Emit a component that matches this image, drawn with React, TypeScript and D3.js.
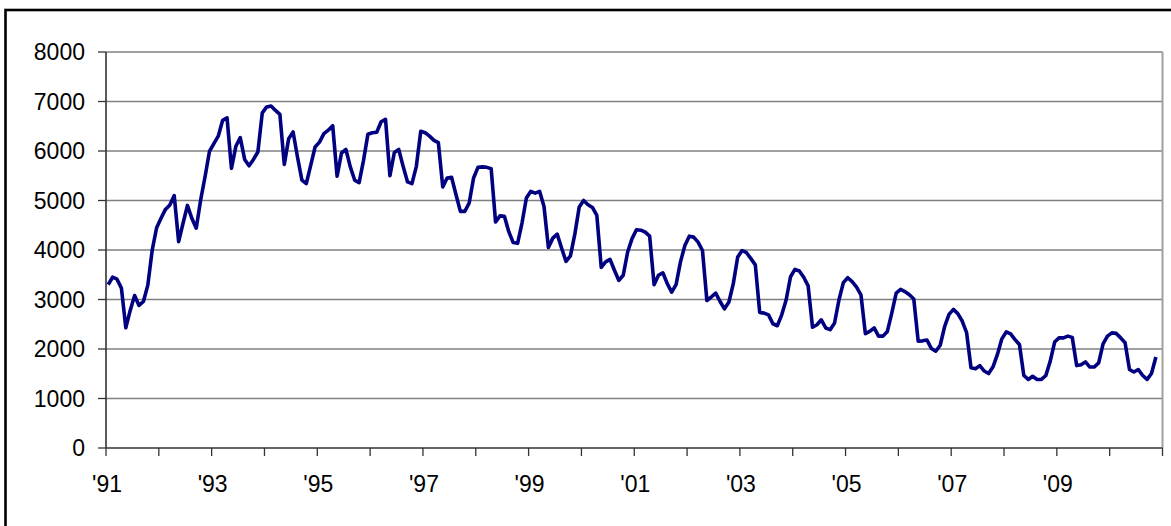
import React from 'react';
import * as d3 from 'd3';

// monthly values, Jan 1991 .. Nov 2010
const values: number[] = [
  3300, 3450, 3410, 3230, 2430, 2780, 3080, 2880, 2960, 3290, 4000, 4450,
  4640, 4820, 4910, 5100, 4170, 4540, 4900, 4640, 4440, 5010, 5480, 5990,
  6150, 6300, 6620, 6670, 5650, 6095, 6270, 5830, 5700, 5830, 5980, 6770,
  6890, 6910, 6820, 6740, 5730, 6250, 6385, 5880, 5410, 5340, 5710, 6080,
  6180, 6350, 6420, 6510, 5490, 5960, 6030, 5680, 5410, 5360, 5810, 6340,
  6370, 6380, 6590, 6640, 5500, 5970, 6030, 5690, 5375, 5340, 5690, 6400,
  6370, 6300, 6215, 6170, 5275, 5455, 5470, 5120, 4780, 4780, 4950, 5455,
  5670, 5680, 5670, 5640, 4565, 4690, 4680, 4370, 4150, 4135, 4545, 5050,
  5185, 5150, 5185, 4880, 4050, 4240, 4320, 4035, 3770, 3880, 4320, 4870,
  5000, 4915, 4860, 4700, 3650, 3760, 3810, 3590, 3385, 3490, 3960, 4230,
  4410, 4400, 4360, 4280, 3300, 3490, 3540, 3320, 3150, 3300, 3760, 4090,
  4280, 4260, 4160, 3990, 2980, 3050, 3130, 2960, 2810, 2950, 3320, 3860,
  3990, 3945, 3825, 3700, 2740, 2725, 2690, 2510, 2470, 2690, 2990, 3460,
  3610, 3575, 3450, 3275, 2440, 2490, 2590, 2425, 2390, 2525, 2990, 3340,
  3440, 3360, 3250, 3095, 2310, 2355, 2425, 2260, 2260, 2355, 2725, 3130,
  3205, 3160, 3095, 3010, 2160, 2165, 2180, 2010, 1955, 2075, 2450, 2700,
  2800, 2715, 2565, 2330, 1620, 1600, 1665, 1555, 1505, 1640, 1890, 2205,
  2345, 2305, 2190, 2090, 1465, 1385, 1450, 1385, 1385, 1465, 1755, 2140,
  2225, 2225, 2260, 2235, 1665, 1680, 1740, 1635, 1635, 1720, 2105, 2260,
  2325, 2315, 2225, 2125, 1585, 1535, 1585, 1465, 1385, 1505, 1840,
];

const yTicks = [0, 1000, 2000, 3000, 4000, 5000, 6000, 7000, 8000];
const xLabels = ["'91", "'93", "'95", "'97", "'99", "'01", "'03", "'05", "'07", "'09"];
const nYears = 20;

const W = 1171;
const H = 526;
const font = "Arial, 'Liberation Sans', sans-serif";

export default function App() {
  const x = d3.scaleLinear().domain([0, nYears * 12]).range([106, 1162.5]);
  const y = d3.scaleLinear().domain([0, 8000]).range([448, 52]);

  const line = d3
    .line<number>()
    .x((_, i) => x(i + 0.5))
    .y((d) => y(d));

  const yearTicks = d3.range(nYears + 1).map((k) => k * 12);

  return (
    <svg width={W} height={H} style={{ position: 'absolute', left: 0, top: 0, background: '#fff' }}>
      <rect x={5.5} y={10} width={W + 10} height={H + 10} fill="#fff" stroke="#000" strokeWidth={2.6} />

      {/* gridlines */}
      {yTicks.slice(1).map((t) => (
        <line key={t} x1={x(0)} x2={x(nYears * 12)} y1={y(t)} y2={y(t)} stroke="#808080" strokeWidth={1.3} />
      ))}
      <line x1={x(nYears * 12)} x2={x(nYears * 12)} y1={y(8000)} y2={y(0)} stroke="#a0a0a0" strokeWidth={2} />

      {/* y axis */}
      <line x1={x(0)} x2={x(0)} y1={y(8000)} y2={y(0)} stroke="#333" strokeWidth={1.6} />
      {yTicks.map((t) => (
        <g key={t}>
          <line x1={x(0) - 8} x2={x(0)} y1={y(t)} y2={y(t)} stroke="#333" strokeWidth={1.3} />
          <text x={85} y={y(t)} dy="0.35em" textAnchor="end" fontFamily={font} fontSize={23} fill="#000">
            {t}
          </text>
        </g>
      ))}

      {/* x axis */}
      <line x1={x(0)} x2={x(nYears * 12)} y1={y(0)} y2={y(0)} stroke="#333" strokeWidth={1.6} />
      {yearTicks.map((m) => (
        <line key={m} x1={x(m)} x2={x(m)} y1={y(0)} y2={y(0) + 8} stroke="#333" strokeWidth={1.3} />
      ))}
      {xLabels.map((l, i) => (
        <text key={l} x={x(i * 24) + 1} y={492} textAnchor="middle" fontFamily={font} fontSize={23} fill="#000">
          {l}
        </text>
      ))}

      <path d={line(values) ?? ''} fill="none" stroke="#000080" strokeWidth={3.6} strokeLinejoin="round" />
    </svg>
  );
}
